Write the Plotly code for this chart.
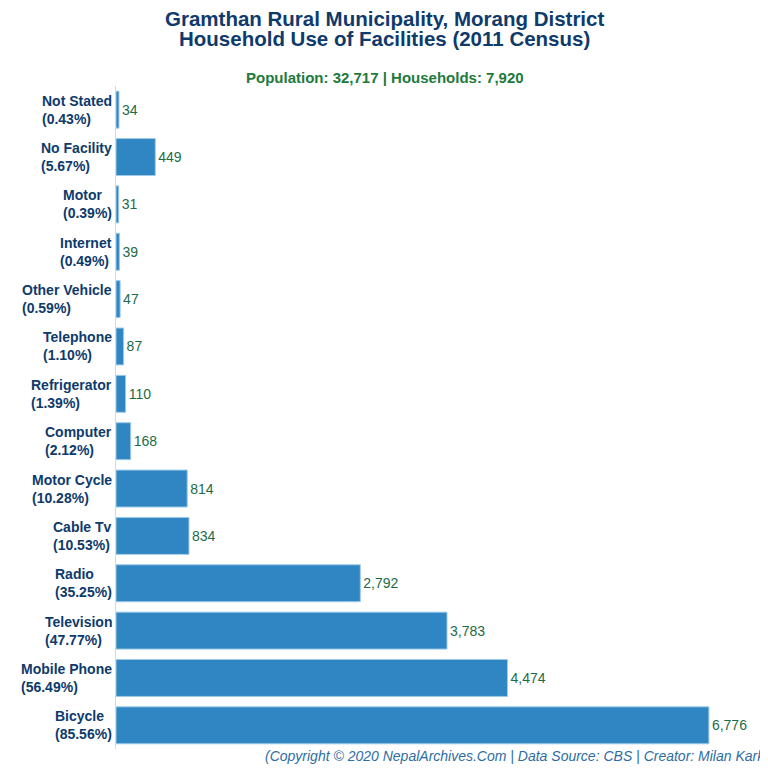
import plotly.graph_objects as go

# household facilities, top to bottom as shown in the chart
facilities = ["Not Stated", "No Facility", "Motor", "Internet", "Other Vehicle", "Telephone",
              "Refrigerator", "Computer", "Motor Cycle", "Cable Tv", "Radio", "Television",
              "Mobile Phone", "Bicycle"]
households = [34, 449, 31, 39, 47, 87, 110, 168, 814, 834, 2792, 3783, 4474, 6776]
percents = ["0.43%", "5.67%", "0.39%", "0.49%", "0.59%", "1.10%", "1.39%", "2.12%",
            "10.28%", "10.53%", "35.25%", "47.77%", "56.49%", "85.56%"]

title_lines = ["Gramthan Rural Municipality, Morang District",
               "Household Use of Facilities (2011 Census)"]
subtitle_text = "Population: 32,717 | Households: 7,920"
credit_text = "(Copyright © 2020 NepalArchives.Com | Data Source: CBS | Creator: Milan Karki)"

navy = "#0e3a6c"
green = "#1c6b48"

# plot area in page pixels (the page itself sits 8px in from the window edge)
L, R, T, B = 108, 752, 78, 741
W, H = R - L, B - T


def px_x(p):
    return (p - L) / W


def px_y(p):
    return (B - p) / H


fig = go.Figure()
fig.add_trace(go.Bar(
    x=households, y=facilities, orientation="h",
    marker=dict(color="#2f86c2", line=dict(color="#9ecae8", width=1)),
    width=0.78,
    text=[f"{v:,}" for v in households], textposition="outside",
    textfont=dict(color=green, size=14),
    cliponaxis=False, showlegend=False, hoverinfo="x+y",
))

# y labels as left-aligned two-line annotations
for name, pct in zip(facilities, percents):
    fig.add_annotation(x=0, xref="paper", y=name, yref="y", xanchor="right", align="left",
                       xshift=-2, showarrow=False,
                       text=f"<b>{name}<br>({pct})</b>",
                       font=dict(size=14, color=navy))

# two-line title, set tight like the original
for line, ypx in zip(title_lines, [11, 30]):
    fig.add_annotation(x=px_x(376), xref="paper", y=px_y(ypx), yref="paper",
                       xanchor="center", yanchor="middle", showarrow=False,
                       text=f"<b>{line}</b>", font=dict(size=20.5, color=navy))

fig.add_annotation(x=px_x(377), xref="paper", y=px_y(69), yref="paper", yanchor="middle",
                   showarrow=False, text=f"<b>{subtitle_text}</b>",
                   font=dict(size=15, color="#217a3c"))
fig.add_annotation(x=px_x(766), xref="paper", y=px_y(748), yref="paper",
                   xanchor="right", yanchor="middle",
                   showarrow=False, text=f"<i>{credit_text}</i>",
                   font=dict(size=14, color="#2e6da4"))

fig.update_layout(
    width=768, height=768,
    font=dict(family="Liberation Sans, Arial"),
    margin=dict(l=L, r=768 - R, t=T, b=768 - B, autoexpand=False),
    plot_bgcolor="white", paper_bgcolor="white",
    xaxis=dict(range=[0, 7360], showticklabels=False, showgrid=False, zeroline=False,
               automargin=False),
    yaxis=dict(autorange="reversed", showticklabels=False, showgrid=False, zeroline=False,
               showline=True, linecolor="#d5d8dc", linewidth=1, automargin=False),
)

fig.write_html("out.html")
